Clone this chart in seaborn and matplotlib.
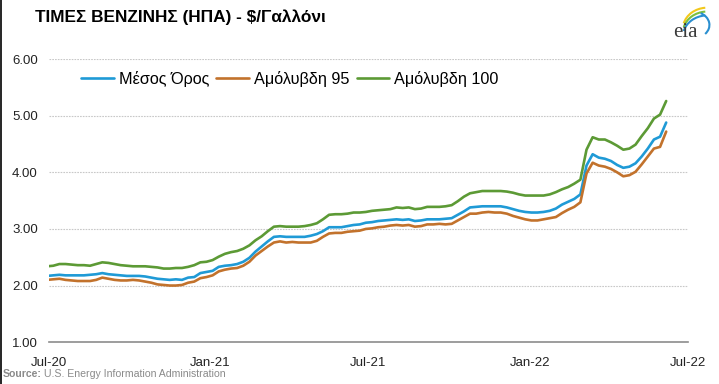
import matplotlib
matplotlib.use("Agg")
import matplotlib.pyplot as plt
import matplotlib.dates as mdates
from matplotlib.patches import Arc
from matplotlib.lines import Line2D
import seaborn as sns
import pandas as pd

# weekly retail prices, $/gallon
weeks = pd.date_range("2020-06-29", "2022-06-06", freq="7D")

avg = [2.17, 2.18, 2.19, 2.18, 2.18, 2.18, 2.18, 2.19, 2.20, 2.22,
       2.20, 2.19, 2.18, 2.17, 2.17, 2.17, 2.16, 2.14, 2.12, 2.11,
       2.10, 2.11, 2.10, 2.14, 2.15, 2.22, 2.24, 2.26, 2.33, 2.35,
       2.36, 2.38, 2.42, 2.49, 2.60, 2.69, 2.78, 2.86, 2.87, 2.86,
       2.86, 2.86, 2.86, 2.88, 2.91, 2.96, 3.03, 3.03, 3.03, 3.05,
       3.07, 3.08, 3.11, 3.12, 3.14, 3.15, 3.16, 3.17, 3.16, 3.17,
       3.14, 3.15, 3.17, 3.17, 3.17, 3.18, 3.19, 3.25, 3.31, 3.38,
       3.39, 3.40, 3.40, 3.40, 3.40, 3.38, 3.35, 3.32, 3.30, 3.29,
       3.29, 3.30, 3.32, 3.36, 3.43, 3.48, 3.53, 3.61, 4.12, 4.32,
       4.26, 4.24, 4.20, 4.13, 4.08, 4.10, 4.16, 4.28, 4.42, 4.58,
       4.63, 4.88]

unl95 = [2.10, 2.11, 2.12, 2.10, 2.09, 2.08, 2.08, 2.08, 2.10, 2.14,
         2.12, 2.10, 2.09, 2.09, 2.10, 2.09, 2.07, 2.05, 2.02, 2.01,
         2.00, 2.00, 2.01, 2.05, 2.07, 2.13, 2.15, 2.18, 2.25, 2.28,
         2.30, 2.31, 2.35, 2.42, 2.53, 2.61, 2.69, 2.76, 2.78, 2.76,
         2.77, 2.76, 2.76, 2.76, 2.79, 2.86, 2.92, 2.93, 2.93, 2.95,
         2.96, 2.97, 3.00, 3.01, 3.03, 3.04, 3.06, 3.07, 3.06, 3.07,
         3.04, 3.05, 3.08, 3.08, 3.09, 3.08, 3.09, 3.15, 3.21, 3.27,
         3.27, 3.29, 3.30, 3.29, 3.29, 3.27, 3.23, 3.20, 3.17, 3.15,
         3.15, 3.17, 3.19, 3.21, 3.28, 3.34, 3.39, 3.47, 3.98, 4.17,
         4.12, 4.10, 4.06, 4.00, 3.93, 3.95, 4.01, 4.14, 4.28, 4.42,
         4.45, 4.72]

unl100 = [2.34, 2.35, 2.38, 2.38, 2.37, 2.36, 2.36, 2.35, 2.38, 2.41,
          2.40, 2.38, 2.36, 2.35, 2.34, 2.34, 2.34, 2.33, 2.32, 2.30,
          2.30, 2.31, 2.31, 2.33, 2.36, 2.41, 2.42, 2.45, 2.51, 2.56,
          2.59, 2.61, 2.65, 2.71, 2.80, 2.87, 2.96, 3.04, 3.05, 3.04,
          3.04, 3.04, 3.05, 3.07, 3.10, 3.17, 3.25, 3.26, 3.26, 3.27,
          3.29, 3.29, 3.30, 3.32, 3.33, 3.34, 3.35, 3.38, 3.37, 3.38,
          3.35, 3.36, 3.39, 3.39, 3.39, 3.40, 3.42, 3.49, 3.57, 3.63,
          3.65, 3.67, 3.67, 3.67, 3.67, 3.66, 3.64, 3.61, 3.59, 3.59,
          3.59, 3.59, 3.61, 3.65, 3.70, 3.74, 3.80, 3.87, 4.40, 4.62,
          4.58, 4.58, 4.53, 4.47, 4.40, 4.42, 4.49, 4.64, 4.78, 4.95,
          5.02, 5.26]

names = ["Μέσος Όρος", "Αμόλυβδη 95", "Αμόλυβδη 100"]
colors = ["#1f9ad6", "#c2722c", "#5c9a35"]

df = pd.DataFrame({
    "date": list(weeks) * 3,
    "price": avg + unl95 + unl100,
    "series": [names[0]] * len(weeks) + [names[1]] * len(weeks) + [names[2]] * len(weeks),
})

sns.set_theme(style="white")
plt.rcParams["font.family"] = ["Liberation Sans", "DejaVu Sans"]

fig = plt.figure(figsize=(7.19, 3.84), dpi=100)
ax = fig.add_axes([0.068, 0.109, 0.889, 0.737])

sns.lineplot(data=df, x="date", y="price", hue="series", hue_order=names,
             palette=colors, linewidth=1.9, ax=ax, legend=False)

ax.set_xlim(pd.Timestamp("2020-07-01"), pd.Timestamp("2022-07-01"))
ax.set_ylim(1, 6)
ax.set_yticks([1, 2, 3, 4, 5, 6])
ax.yaxis.set_major_formatter(plt.FormatStrFormatter("%.2f"))
ax.xaxis.set_major_locator(mdates.MonthLocator(bymonth=[1, 7]))
ax.xaxis.set_major_formatter(mdates.DateFormatter("%b-%y"))
ax.set_xlabel("")
ax.set_ylabel("")

for y in [2, 3, 4, 5, 6]:
    ax.axhline(y, color="#c8c8c8", linewidth=0.8, linestyle=(0, (1.5, 1)), zorder=0)

for side in ["left", "right", "top"]:
    ax.spines[side].set_visible(False)
ax.spines["bottom"].set_color("#8c8c8c")
ax.spines["bottom"].set_linewidth(1.2)
ax.tick_params(axis="x", direction="out", length=4, width=1, color="#8c8c8c",
               labelsize=9.5, labelcolor="#222222", pad=7)
ax.tick_params(axis="y", length=0, labelsize=9.5, labelcolor="#222222", pad=8)

handles = [Line2D([0], [0], color=c, linewidth=1.9) for c in colors]
ax.legend(handles, names, ncol=3, frameon=False, loc="upper left",
          bbox_to_anchor=(0.028, 1.01), fontsize=11.7, handlelength=2.0,
          handletextpad=0.3, columnspacing=0.45, labelcolor="black")

fig.text(0.048, 0.955, "ΤΙΜΕΣ ΒΕΝΖΙΝΗΣ (ΗΠΑ) - $/Γαλλόνι", fontsize=12.4,
         fontweight="bold", color="black", va="center", ha="left")

fig.text(0.004, 0.025, "Source:", fontsize=7.6, fontweight="bold", color="#8a8a8a",
         va="center", ha="left")
fig.text(0.061, 0.025, "U.S. Energy Information Administration", fontsize=7.6,
         color="#8a8a8a", va="center", ha="left")

# small eia logo
logo = fig.add_axes([0.925, 0.89, 0.062, 0.1])
logo.set_xlim(0, 1)
logo.set_ylim(0, 1)
logo.axis("off")
logo.text(0.45, 0.0, "eia", family=["Liberation Serif", "DejaVu Serif"],
          fontsize=15, color="#3a3a3a", ha="center", va="bottom")
for dy, c in zip([0.0, -0.1, -0.2], ["#f2c81b", "#7cbf3f", "#2a8fd0"]):
    logo.add_patch(Arc((0.95, 0.35 + dy), 1.1, 1.1, theta1=95, theta2=165,
                       color=c, linewidth=1.5, clip_on=False))
logo.add_patch(Arc((0.62, 0.45), 0.75, 0.7, theta1=-40, theta2=60,
                   color="#2a8fd0", linewidth=1.5, clip_on=False))

fig.add_artist(Line2D([0.001, 0.001], [0, 1], transform=fig.transFigure,
                      color="black", linewidth=1.2))

fig.savefig("out.png", dpi=100)
